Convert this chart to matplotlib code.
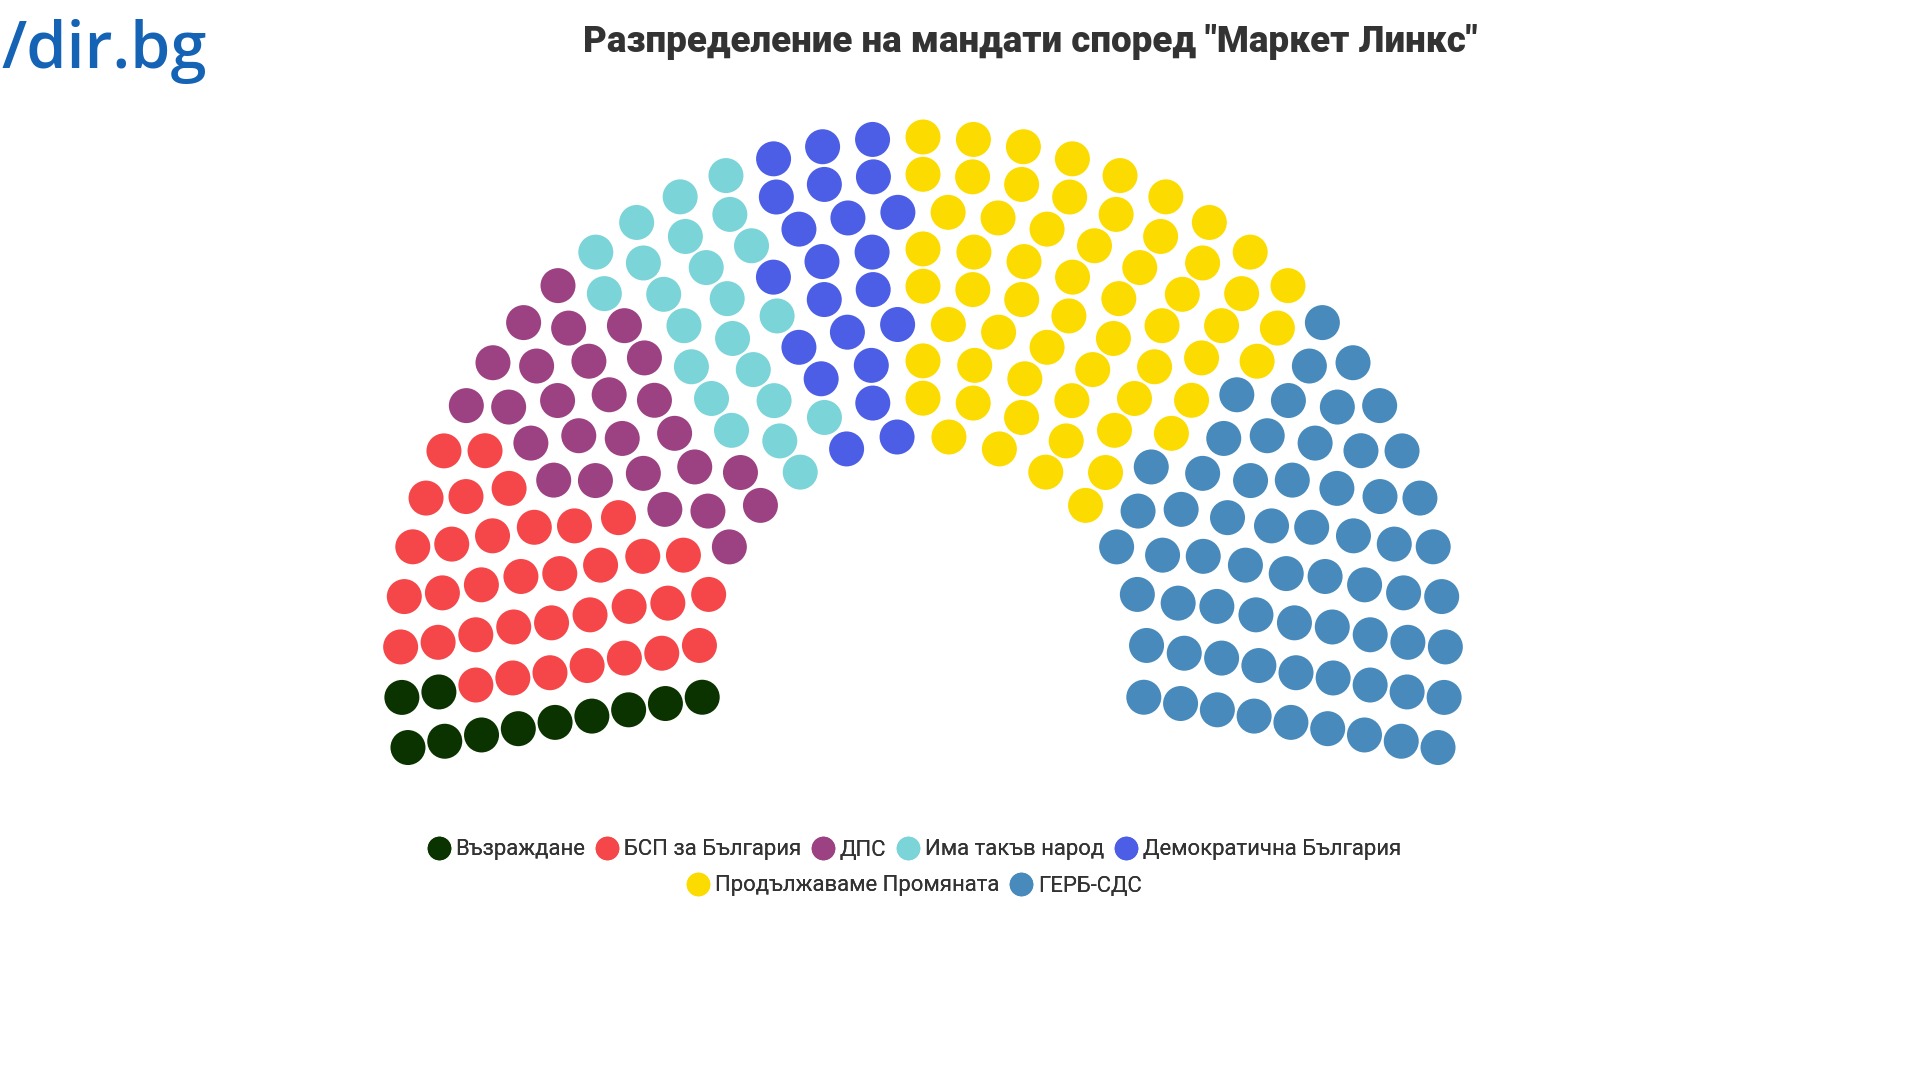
import numpy as np
import matplotlib
matplotlib.use("Agg")
import matplotlib.pyplot as plt
from matplotlib.lines import Line2D

# seats per party, left to right
parties = ["Възраждане", "БСП за България", "ДПС", "Има такъв народ",
           "Демократична България", "Продължаваме Промяната", "ГЕРБ-СДС"]
seats = [11, 35, 26, 23, 22, 60, 63]
colors = ["#0b3300", "#f5474a", "#9c4283", "#7bd4d8",
          "#4c5de6", "#fcdc00", "#478abb"]

title = 'Разпределение на мандати според "Маркет Линкс"'

# hemicycle geometry, in pixels of the 1920x1080 picture
N_ROWS = 9
CX, CY = 923, 659.5
R_IN, R_OUT = 224, 522.5
START = np.deg2rad(189.7)
ARC = np.deg2rad(199.4)
DOT = 35  # dot diameter, px


def seat_positions(total):
    radii = np.linspace(R_IN, R_OUT, N_ROWS)
    per_row = np.round(total * radii / radii.sum()).astype(int)
    per_row[-1] += total - per_row.sum()
    pts = []
    for r, n in zip(radii, per_row):
        for k in range(n):
            a = START - ARC * k / (n - 1)
            pts.append((a, r))
    # fill seats by angle, left to right
    pts.sort(key=lambda p: (-round(p[0], 9), -p[1]))
    ang = np.array([p[0] for p in pts])
    rad = np.array([p[1] for p in pts])
    return CX + rad * np.cos(ang), CY - rad * np.sin(ang)


fig = plt.figure(figsize=(19.2, 10.8), dpi=100)
ax = fig.add_axes([0, 0, 1, 1])
ax.set_xlim(0, 1920)
ax.set_ylim(1080, 0)
ax.axis("off")

x, y = seat_positions(sum(seats))
seat_colors = np.repeat(colors, seats)
s = (DOT * 72 / 100) ** 2
ax.scatter(x, y, s=s, c=seat_colors, linewidths=0)

# title and logo
fig.text(1030 / 1920, 1 - 42 / 1080, title, ha="center", va="center",
         fontsize=26.5, fontweight="heavy", color="#333333", family="Roboto")
fig.text(1 / 1920, 1 - 52 / 1080, "/dir.bg", ha="left", va="center",
         fontsize=46.5, fontweight="semibold", color="#1463b5",
         family="Open Sans")

# legend in two centred rows
handles = [Line2D([], [], marker="o", ls="", markersize=17, color=c,
                  markeredgewidth=0) for c in colors]
rows = [(0, 5, 850), (5, 7, 886)]
for a, b, yy in rows:
    leg = fig.legend(handles[a:b], parties[a:b], ncol=b - a, loc="center",
                     bbox_to_anchor=(915 / 1920, 1 - yy / 1080),
                     frameon=False, labelcolor="#333333",
                     handlelength=0.9, handletextpad=0.3, columnspacing=0.55,
                     prop={"family": "Roboto", "size": 15.9})
    fig.add_artist(leg)

fig.savefig("out.png", dpi=100, facecolor="white")
